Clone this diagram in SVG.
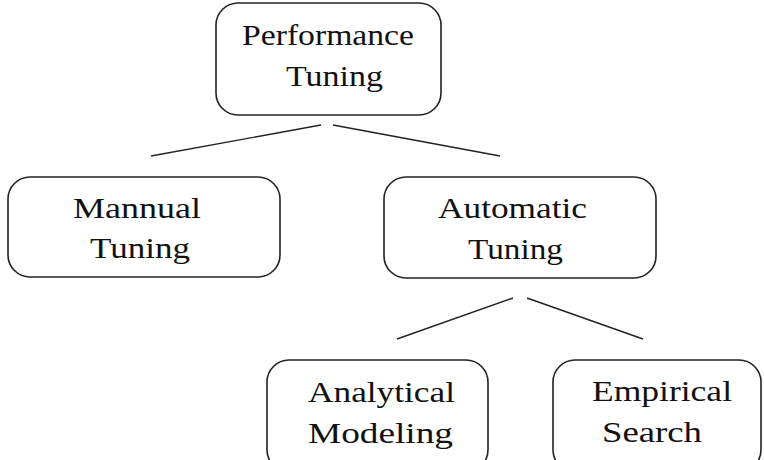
<svg xmlns="http://www.w3.org/2000/svg" width="764" height="460" viewBox="0 0 764 460">
  <style>
    .box { fill: #ffffff; stroke: #222222; stroke-width: 1.6; }
    .lbl { font-family: "Liberation Serif", "Times New Roman", serif; font-size: 29px; fill: #111111; }
    .edge { stroke: #222222; stroke-width: 1.4; fill: none; }
  </style>
  <rect width="764" height="460" fill="#ffffff"/>

  <!-- tree connectors -->
  <g id="connectors">
    <line class="edge" x1="321" y1="125" x2="151" y2="156"/>
    <line class="edge" x1="333" y1="125" x2="500" y2="156"/>
    <line class="edge" x1="513" y1="298" x2="397" y2="339"/>
    <line class="edge" x1="527" y1="298" x2="643" y2="339"/>
  </g>

  <g id="performance-tuning">
    <rect class="box" x="216" y="3" width="225" height="112" rx="22"/>
    <text class="lbl" x="242" y="45" textLength="172" lengthAdjust="spacingAndGlyphs">Performance</text>
    <text class="lbl" x="286" y="86" textLength="97" lengthAdjust="spacingAndGlyphs">Tuning</text>
  </g>

  <g id="manual-tuning">
    <rect class="box" x="8" y="177" width="272" height="100" rx="22"/>
    <text class="lbl" x="73" y="218" textLength="128" lengthAdjust="spacingAndGlyphs">Mannual</text>
    <text class="lbl" x="90" y="258" textLength="100" lengthAdjust="spacingAndGlyphs">Tuning</text>
  </g>

  <g id="automatic-tuning">
    <rect class="box" x="384" y="177" width="272" height="101" rx="22"/>
    <text class="lbl" x="438" y="218" textLength="149" lengthAdjust="spacingAndGlyphs">Automatic</text>
    <text class="lbl" x="468" y="259" textLength="95" lengthAdjust="spacingAndGlyphs">Tuning</text>
  </g>

  <g id="analytical-modeling">
    <rect class="box" x="267" y="360" width="221" height="112" rx="22"/>
    <text class="lbl" x="308" y="402" textLength="147" lengthAdjust="spacingAndGlyphs">Analytical</text>
    <text class="lbl" x="308" y="443" textLength="145" lengthAdjust="spacingAndGlyphs">Modeling</text>
  </g>

  <g id="empirical-search">
    <rect class="box" x="553" y="360" width="208" height="112" rx="22"/>
    <text class="lbl" x="592" y="401" textLength="140" lengthAdjust="spacingAndGlyphs">Empirical</text>
    <text class="lbl" x="602" y="442" textLength="100" lengthAdjust="spacingAndGlyphs">Search</text>
  </g>
</svg>
